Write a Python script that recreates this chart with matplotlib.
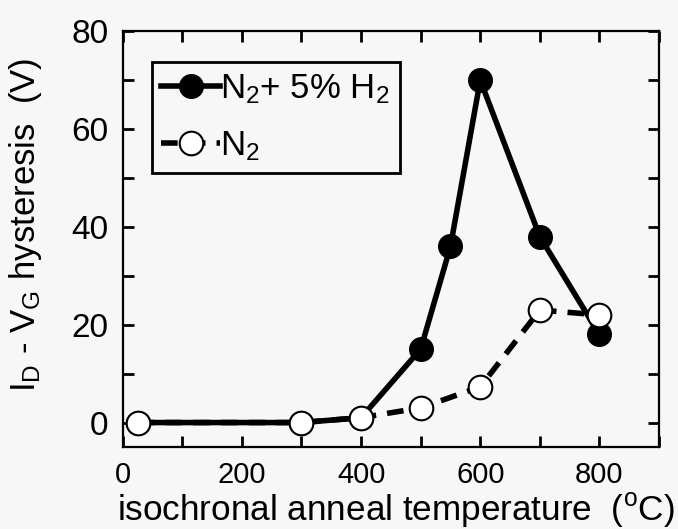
import matplotlib as mpl
mpl.use('Agg')
import matplotlib.pyplot as plt
from matplotlib.ticker import MultipleLocator

plt.rcParams['font.family'] = ['Liberation Sans', 'DejaVu Sans']
plt.rcParams['mathtext.fontset'] = 'custom'
plt.rcParams['mathtext.rm'] = 'Liberation Sans'
plt.rcParams['mathtext.it'] = 'Liberation Sans'

# anneal temperature (C) and hysteresis (V)
temp_h2 = [25, 300, 400, 500, 550, 600, 700, 800]
hyst_h2 = [0, 0, 1, 15, 36, 70, 38, 18]
temp_n2 = [25, 300, 400, 500, 600, 700, 800]
hyst_n2 = [0, 0, 1, 3, 7.3, 23, 22]

label_h2 = r'N$_2$+ 5% H$_2$'
label_n2 = r'N$_2$'

bg = '#f7f7f7'
fig = plt.figure(figsize=(6.78, 5.29), dpi=100)
fig.patch.set_facecolor(bg)
ax = fig.add_axes([0.181, 0.155, 0.791, 0.786])
ax.set_facecolor(bg)

ax.plot(temp_h2, hyst_h2, '-', color='black', lw=4, marker='o', ms=17,
		mfc='black', mec='black', zorder=3, label=label_h2)
ax.plot(temp_n2, hyst_n2, '--', color='black', lw=4, dashes=(3, 2),
		marker='o', ms=17, mfc='white', mec='black', mew=1.5, zorder=4, label=label_n2)

ax.set_xlim(0, 900)
ax.set_ylim(-5, 80)
ax.xaxis.set_major_locator(MultipleLocator(200))
ax.xaxis.set_minor_locator(MultipleLocator(100))
ax.yaxis.set_major_locator(MultipleLocator(20))
ax.yaxis.set_minor_locator(MultipleLocator(10))
ax.tick_params(which='both', direction='in', top=True, right=True,
			   length=8, width=2)
ax.tick_params(axis='x', which='major', labelsize=21, pad=10)
ax.tick_params(axis='y', which='major', labelsize=24, pad=10.5)
for s in ax.spines.values():
	s.set_linewidth(1.6)

ax.set_xlabel(r'isochronal anneal temperature  ($\mathregular{^o}$C)', fontsize=25.3)
ax.xaxis.set_label_coords(0.51, -0.106)
ax.set_ylabel(r'I$_\mathregular{D}$ - V$_\mathregular{G}$ hysteresis  (V)', fontsize=25)
ax.yaxis.set_label_coords(-0.146, 0.535)

leg = ax.legend(loc='upper left', bbox_to_anchor=(0.054, 0.925), borderaxespad=0,
				fontsize=25, handlelength=1.7, handletextpad=0.0, borderpad=0.28,
				labelspacing=0.68, fancybox=False, framealpha=1,
				edgecolor='black', facecolor=bg)
leg.get_frame().set_linewidth(2)

fig.savefig('out.png', dpi=100, facecolor=fig.get_facecolor())
